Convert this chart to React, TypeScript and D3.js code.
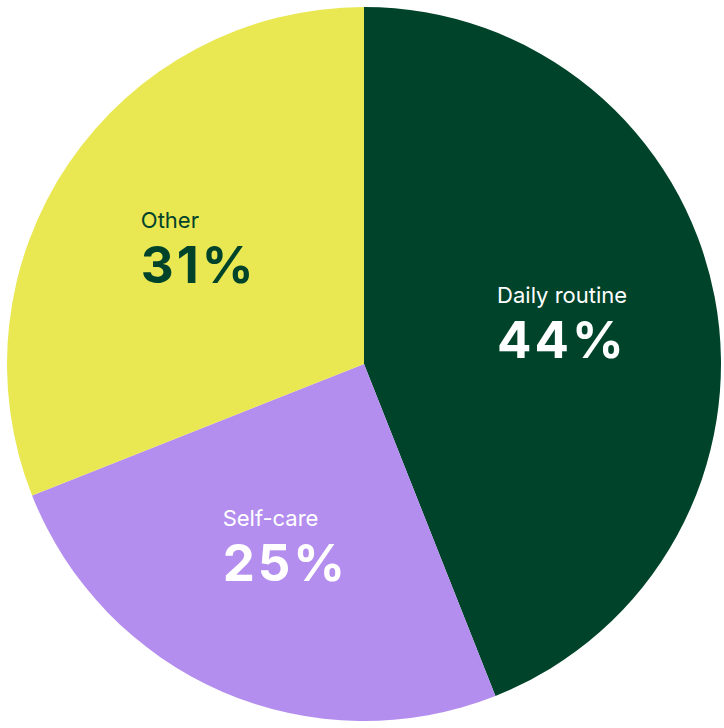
import React, { useEffect, useRef } from "react";
import * as d3 from "d3";

const categories = ["Daily routine", "Self-care", "Other"];
const values = [44, 25, 31];
const colors = ["#00432B", "#B48EEF", "#E9E752"];
const textColors = ["#FFFFFF", "#FFFFFF", "#00432B"];

const W = 724;
const H = 728;
const cx = 364;
const cy = 364;
const R = 357;

export default function App() {
  const ref = useRef<SVGSVGElement>(null);

  useEffect(() => {
    const svg = d3.select(ref.current);
    svg.selectAll("*").remove();
    const data = categories.map((c, i) => ({ c, v: values[i], i }));
    const pie = d3.pie<any>().value((d) => d.v).sort(null);
    const arcs = pie(data);
    const arc = d3.arc<any>().innerRadius(0).outerRadius(R);
    const labelArc = d3.arc<any>().innerRadius(R * 0.565).outerRadius(R * 0.565);

    const g = svg.append("g").attr("transform", `translate(${cx},${cy})`);
    g.selectAll("path")
      .data(arcs)
      .join("path")
      .attr("d", arc as any)
      .attr("fill", (d: any) => colors[d.data.i]);

    arcs.forEach((a: any) => {
      const [x, y] = labelArc.centroid(a);
      const lg = g.append("g");
      const t1 = lg
        .append("text")
        .attr("font-family", "Inter, 'DejaVu Sans', sans-serif")
        .attr("font-size", 22)
        .attr("fill", textColors[a.data.i])
        .attr("y", y - 23)
        .text(a.data.c);
      const t2 = lg
        .append("text")
        .attr("font-family", "Inter, 'DejaVu Sans', sans-serif")
        .attr("font-size", 51)
        .attr("font-weight", 700)
        .attr("letter-spacing", 3)
        .attr("fill", textColors[a.data.i])
        .attr("y", y + 32)
        .text(`${a.data.v}%`);
      const w1 = (t1.node() as SVGTextElement).getComputedTextLength();
      const w2 = (t2.node() as SVGTextElement).getComputedTextLength() - 3;
      const bw = Math.max(w1, w2);
      t1.attr("x", x - bw / 2);
      t2.attr("x", x - bw / 2);
    });
  }, []);

  return (
    <svg ref={ref} width={W} height={H} style={{ position: "absolute", left: 0, top: 0 }} />
  );
}
